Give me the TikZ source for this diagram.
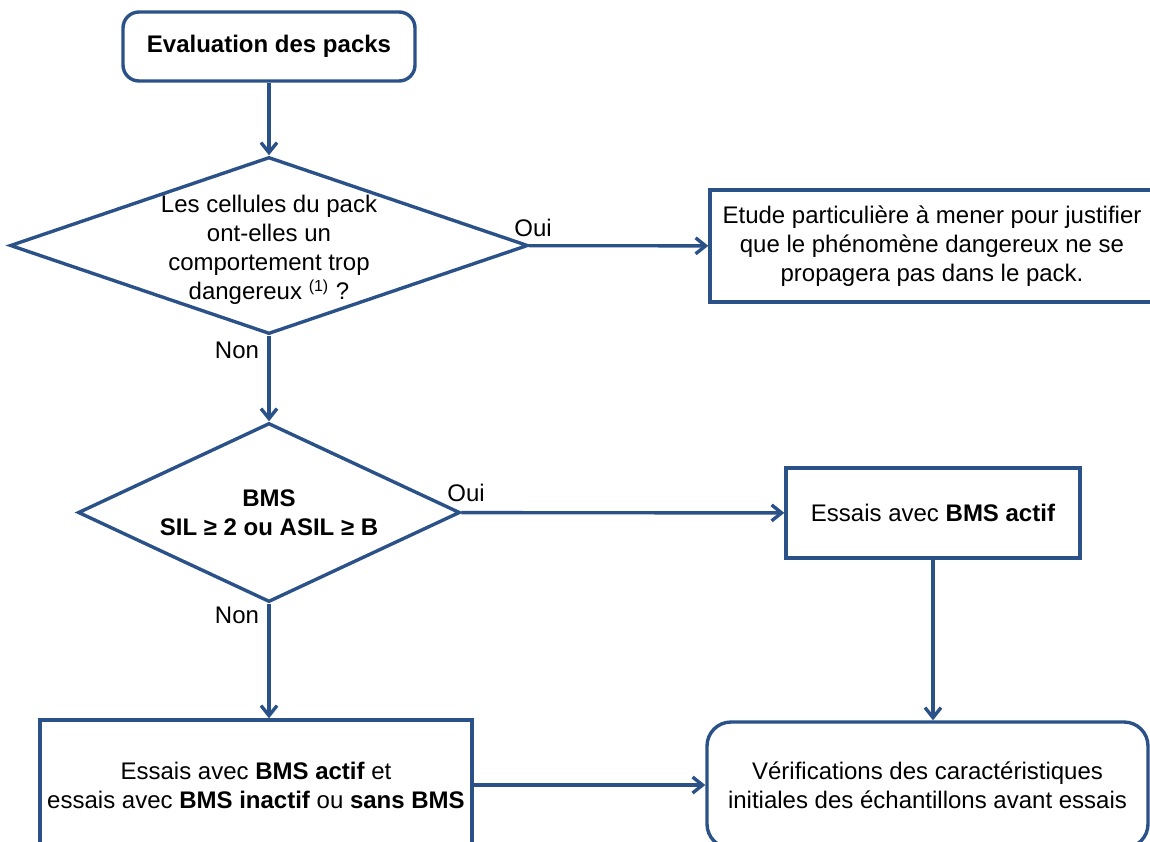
\documentclass[tikz,border=0pt]{standalone}
\usepackage{fontspec}
\setmainfont{Liberation Sans}
\usetikzlibrary{shapes.geometric,arrows.meta}
\definecolor{flowblue}{RGB}{42,82,136}
\begin{document}
\begin{tikzpicture}[x=0.5pt,y=-0.5pt,font=\fontsize{12}{14.5}\selectfont,
	box/.style={draw=flowblue,line width=1.7pt,align=center,inner sep=0pt},
	rbox/.style={box,rounded corners=#1},
	decision/.style={box,diamond,aspect=#1},
	flow/.style={draw=flowblue,line width=1.7pt,-{Straight Barb[length=5pt,width=8pt]}}]
	\useasboundingbox (0,0) rectangle (1150,841);
	\node[rbox=8pt,minimum width=146pt,minimum height=34.5pt] (eval) at (269,46.5) {\bfseries Evaluation des packs};
	\node[decision=2.93,minimum width=259pt,minimum height=88.5pt] (cells) at (269,245.5) {};
	\node[align=center,inner sep=0pt] (cellstext) at (269,250) {Les cellules du pack\\ont-elles un\\comportement trop\\dangereux \textsuperscript{(1)} ?};
	\node[box,minimum width=222pt,minimum height=56pt] (etude) at (932,246) {Etude particulière à mener pour justifier\\que le phénomène dangereux ne se\\propagera pas dans le pack.};
	\node[decision=2.13,minimum width=191pt,minimum height=89.5pt] (bms) at (269,512.5) {\bfseries BMS\\\bfseries SIL ≥ 2 ou ASIL ≥ B};
	\node[box,minimum width=147pt,minimum height=45pt] (actif) at (933,513) {Essais avec \textbf{BMS actif}};
	\node[box,minimum width=216pt,minimum height=65pt] (deux) at (256,785) {Essais avec \textbf{BMS actif} et\\essais avec \textbf{BMS inactif} ou \textbf{sans BMS}};
	\node[rbox=12pt,minimum width=220.5pt,minimum height=63pt] (verif) at (927.5,785) {Vérifications des caractéristiques\\initiales des échantillons avant essais};
	\node (oui1) at (533,228) {Oui};
	\node (non1) at (237,350) {Non};
	\node (oui2) at (466,493) {Oui};
	\node (non2) at (237,615) {Non};
	\draw[flow] (eval) -- (cells);
	\draw[flow] (cells) -- (etude);
	\draw[flow] (cells) -- (bms);
	\draw[flow] (bms) -- (actif);
	\draw[flow] (bms.south) -- (bms.south |- deux.north);
	\draw[flow] (actif.south) -- (actif.south |- verif.north);
	\draw[flow] (deux) -- (verif);
\end{tikzpicture}
\end{document}
